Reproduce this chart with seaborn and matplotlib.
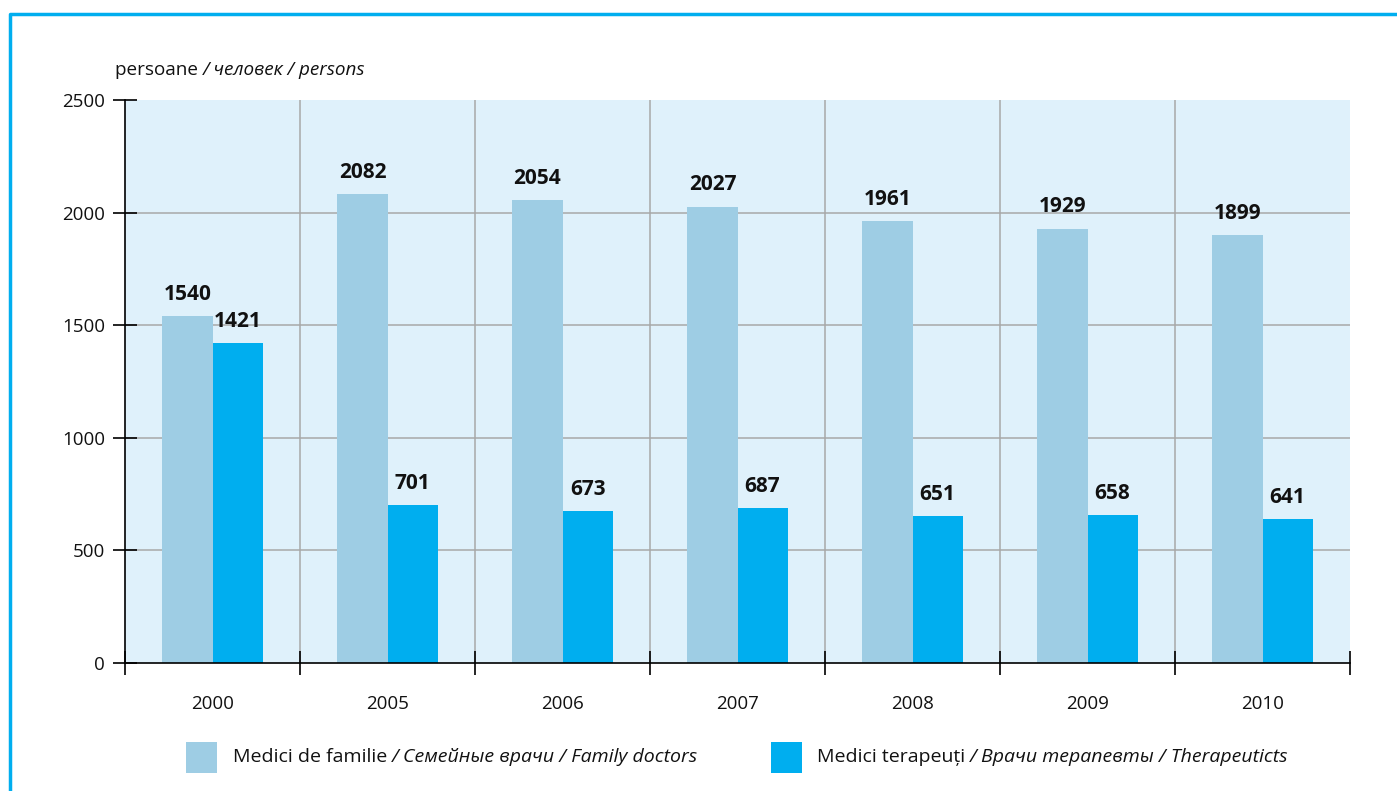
import matplotlib
matplotlib.use("Agg")
import matplotlib.pyplot as plt
import seaborn as sns
import pandas as pd
from matplotlib.patches import Rectangle
from matplotlib.lines import Line2D

years = ["2000", "2005", "2006", "2007", "2008", "2009", "2010"]
family_doctors = [1540, 2082, 2054, 2027, 1961, 1929, 1899]
therapeutists = [1421, 701, 673, 687, 651, 658, 641]
series_names = ["Medici de familie", "Medici terapeuți"]
series_rest = ["/ Семейные врачи / Family doctors", "/ Врачи терапевты / Therapeuticts"]
y_ticks = [0, 500, 1000, 1500, 2000, 2500]
unit_regular = "persoane "
unit_italic = "/ человек / persons"

colors = ["#9ecde4", "#00aeef"]
bg = "#dff1fb"
grid_c = "#a8a8a8"

sns.set_theme(style="white")
plt.rcParams["font.family"] = ["Open Sans", "DejaVu Sans"]

df = pd.DataFrame({
    "year": years * 2,
    "value": family_doctors + therapeutists,
    "series": [series_names[0]] * len(years) + [series_names[1]] * len(years),
})

W, H = 1397, 791
fig = plt.figure(figsize=(W / 100, H / 100), dpi=100)
ax = fig.add_axes([125 / W, 1 - 663 / H, (1350 - 125) / W, (663 - 100) / H])
ax.set_facecolor(bg)

sns.barplot(data=df, x="year", y="value", hue="series", order=years,
            hue_order=series_names, palette=colors, width=0.572,
            saturation=1, ax=ax, legend=False, edgecolor="none", linewidth=0)

ax.set_xlim(-0.5, len(years) - 0.5)
ax.set_ylim(0, 2500)
ax.set_yticks(y_ticks)
ax.set_xlabel("")
ax.set_ylabel("")

# grid lines
for v in y_ticks[1:-1]:
    ax.axhline(v, color=grid_c, lw=1.1, zorder=0.5)
for i in range(len(years) - 1):
    ax.axvline(i + 0.5, color=grid_c, lw=1.1, zorder=0.5)

for s in ["top", "right"]:
    ax.spines[s].set_visible(False)
for s in ["left", "bottom"]:
    ax.spines[s].set_color("black")
    ax.spines[s].set_linewidth(1.2)
    ax.spines[s].set_zorder(3)

ax.tick_params(axis="y", direction="inout", length=17, width=1.2, color="black",
               labelsize=13.5, pad=6, left=True)
ax.tick_params(axis="x", which="major", length=0, labelsize=13.5, pad=23, bottom=True)
ax.set_xticks([i - 0.5 for i in range(len(years) + 1)], minor=True)
ax.tick_params(axis="x", which="minor", direction="inout", length=17, width=1.2,
               color="black", bottom=True)
for lab in ax.get_yticklabels() + ax.get_xticklabels():
    lab.set_color("#111111")

for cont in ax.containers:
    ax.bar_label(cont, labels=[f"{int(v)}" for v in cont.datavalues],
                 padding=8, fontsize=15, fontweight="bold", color="#111111")

# unit label
t1 = fig.text(115 / W, 1 - 70 / H, unit_regular, fontsize=13.6, va="center",
              ha="left", color="#111111")
ax.annotate(unit_italic, xy=(1, 0), xycoords=t1, va="bottom", ha="left",
            fontsize=13.6, style="italic", color="#111111", annotation_clip=False)

# legend
leg_items = [(186, 233), (771, 817)]
for (px, tx), name, rest, c in zip(leg_items, series_names, series_rest, colors):
    fig.patches.append(Rectangle((px / W, 1 - 773 / H), 31 / W, 31 / H,
                                 transform=fig.transFigure, facecolor=c,
                                 edgecolor="none"))
    tt = fig.text(tx / W, 1 - 757 / H, name + " ", fontsize=14, va="center",
                  ha="left", color="#111111")
    ax.annotate(rest, xy=(1, 0), xycoords=tt, va="bottom", ha="left",
                fontsize=14, style="italic", color="#111111", annotation_clip=False)

# frame border (top and left)
fig.add_artist(Line2D([9.5 / W, 9.5 / W, 1.0], [0, 1 - 13.5 / H, 1 - 13.5 / H],
                      transform=fig.transFigure, color="#00aeef", lw=2.5))

fig.savefig("out.png", dpi=100, facecolor="white")
